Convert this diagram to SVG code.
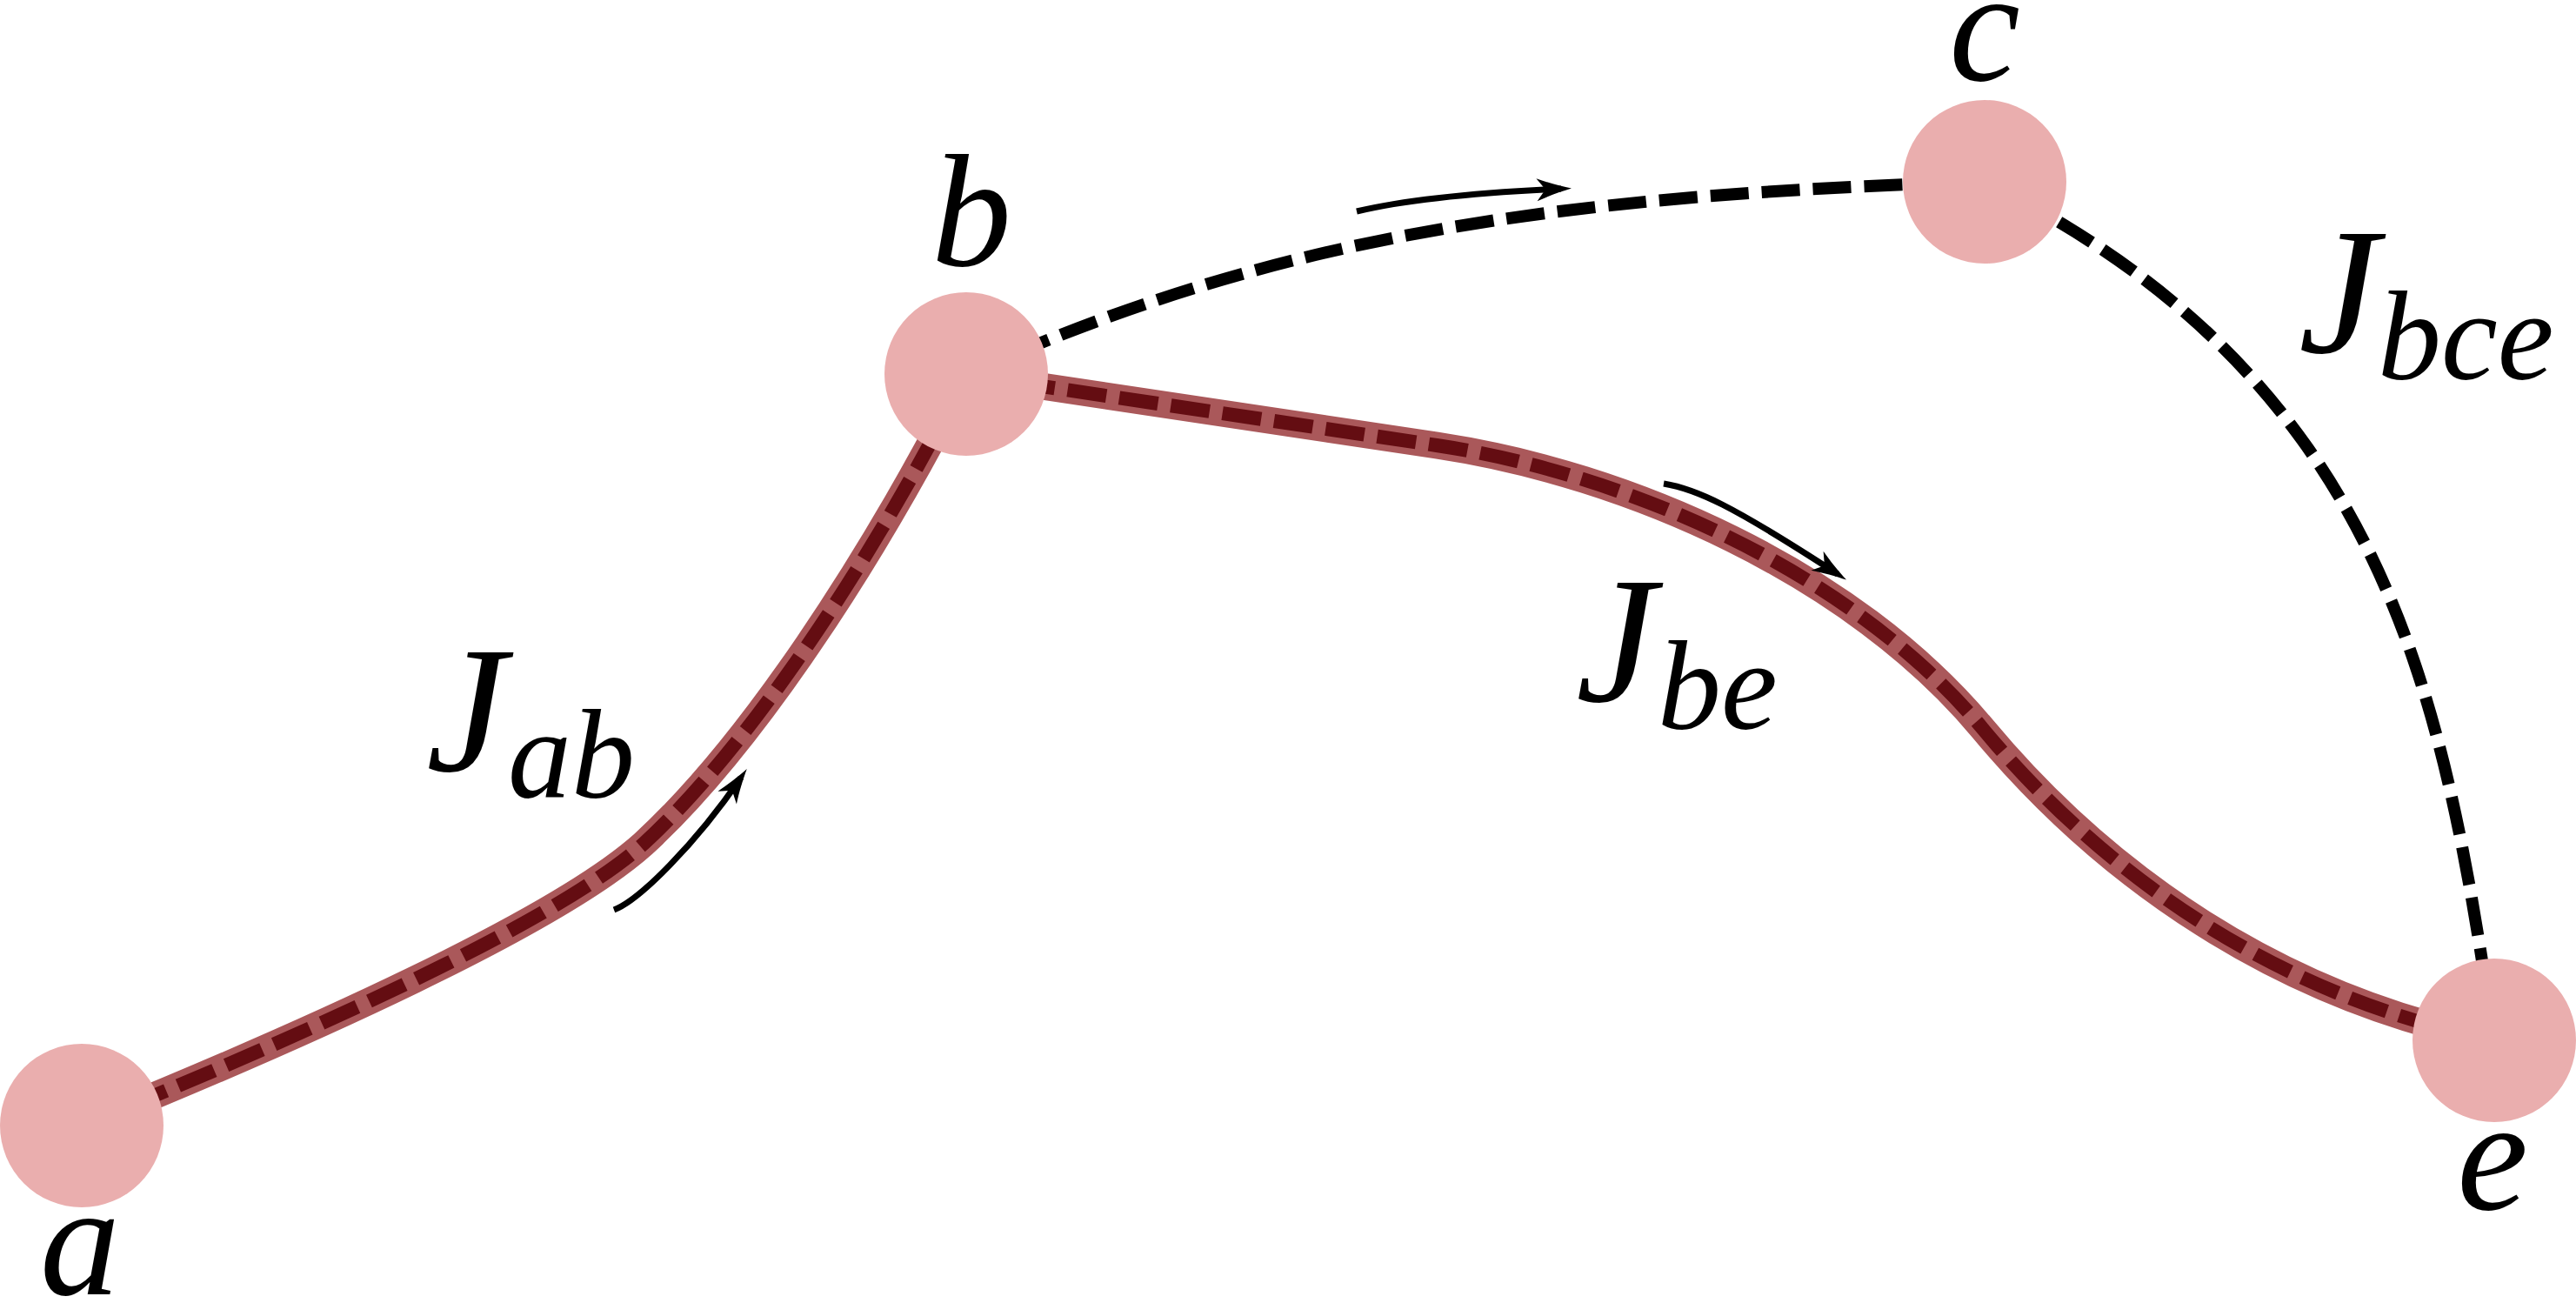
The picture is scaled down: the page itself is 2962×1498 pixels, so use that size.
<svg xmlns="http://www.w3.org/2000/svg" width="2962" height="1498" viewBox="0 0 2962 1498">
<style>
  .band { fill: none; stroke: #AA585A; stroke-width: 31; stroke-linejoin: round; }
  .band-dash { fill: none; stroke: #640D12; stroke-width: 16; stroke-dasharray: 45 15; stroke-linejoin: round; }
  .blk-dash { fill: none; stroke: #000; stroke-width: 14; stroke-dasharray: 44 15; }
  .arrow { fill: none; stroke: #000; stroke-width: 7; marker-end: url(#head); }
  .node { fill: #EAAEAE; }
  .lbl { font-family: "Liberation Serif", "Times New Roman", serif; font-style: italic; font-size: 184px; fill: #000; }
  .big { font-size: 208px; }
  .sub { font-size: 146px; }
</style>
<defs>
  <marker id="head" markerUnits="userSpaceOnUse" viewBox="-32 -16 48 32" markerWidth="48" markerHeight="32" refX="0" refY="0" orient="auto">
    <path d="M12,0 C0,-3 -16,-8 -28,-13 L-18,0 L-28,13 C-16,8 0,3 12,0 Z" fill="#000"/>
  </marker>
</defs>
<rect width="2962" height="1498" fill="#fff"/>

<g id="connectors">
  <g id="path-abe">
    <path class="band" d="M94,1294 C350,1190 640,1060 740,970 C860,860 1000,650 1111,431 L1652,512 C1872,545 2130,658 2280,838 C2420,1006 2618,1146 2868,1196"/>
    <path class="band-dash" d="M94,1294 C350,1190 640,1060 740,970 C860,860 1000,650 1111,431 L1652,512 C1872,545 2130,658 2280,838 C2420,1006 2618,1146 2868,1196"/>
  </g>
  <path id="path-bce" class="blk-dash" d="M1111,431 C1461,273 1782,224 2282,209 C2752,440 2811,816 2868,1196"/>
  <path id="arrow-ab" class="arrow" d="M706,1046 C735,1035 800,970 852,894"/>
  <path id="arrow-bc" class="arrow" d="M1560,243 Q1640,224 1795,217"/>
  <path id="arrow-be" class="arrow" d="M1913,556 C1950,562 1990,580 2113,660"/>
</g>

<g id="node-a">
  <circle class="node" cx="94" cy="1294" r="94"/>
  <text class="lbl" x="92" y="1488" text-anchor="middle">a</text>
</g>
<g id="node-b">
  <circle class="node" cx="1111" cy="430" r="94"/>
  <text class="lbl" x="1117" y="305" text-anchor="middle">b</text>
</g>
<g id="node-c">
  <circle class="node" cx="2282" cy="209" r="94"/>
  <text class="lbl" x="2282" y="92" text-anchor="middle">c</text>
</g>
<g id="node-e">
  <circle class="node" cx="2868" cy="1196" r="94"/>
  <text class="lbl" x="2866" y="1390" text-anchor="middle">e</text>
</g>

<g id="edge-labels">
  <text class="lbl big" x="490" y="886">J<tspan class="sub" x="584" y="917">ab</tspan></text>
  <text class="lbl big" x="1812" y="806">J<tspan class="sub" x="1906" y="838">be</tspan></text>
  <text class="lbl big" x="2643" y="405">J<tspan class="sub" x="2734" y="436">bce</tspan></text>
</g>
</svg>
